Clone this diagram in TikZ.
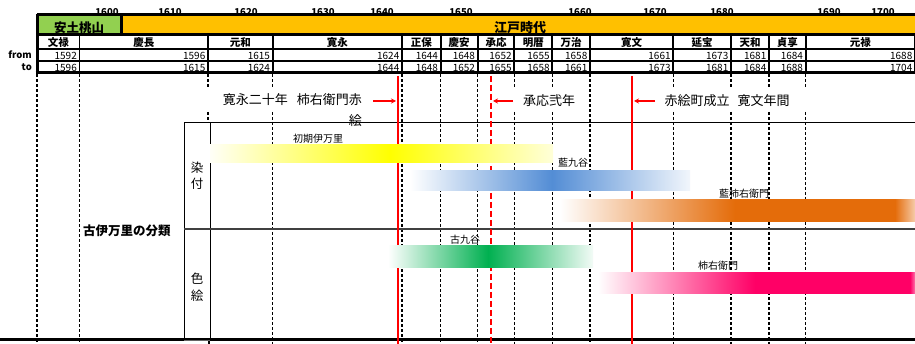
\documentclass[tikz,border=0pt]{standalone}
\usepackage{fontspec}
\setmainfont{Noto Sans CJK JP}
\usetikzlibrary{arrows.meta}
\definecolor{pgreen}{HTML}{92D050}
\definecolor{porange}{HTML}{FFC000}
\definecolor{bblue}{HTML}{538DD5}
\definecolor{borange}{HTML}{E46C0A}
\definecolor{bgreen}{HTML}{00B050}
\definecolor{bpink}{HTML}{FF0066}
\definecolor{byellow}{HTML}{FFFF00}
\pgfdeclarehorizontalshading{yellowbar}{100bp}{color(0bp)=(byellow!3); color(25bp)=(byellow!3); color(51.24bp)=(byellow); color(75bp)=(byellow!15); color(100bp)=(byellow!15)}
\pgfdeclarehorizontalshading{bluebar}{100bp}{color(0bp)=(white); color(25bp)=(white); color(50.36bp)=(bblue); color(75bp)=(bblue!8); color(100bp)=(bblue!8)}
\pgfdeclarehorizontalshading{orangebar}{100bp}{color(0bp)=(white); color(25bp)=(white); color(49.65bp)=(borange); color(72.18bp)=(borange); color(75bp)=(borange!35); color(100bp)=(borange!35)}
\pgfdeclarehorizontalshading{greenbar}{100bp}{color(0bp)=(white); color(25bp)=(white); color(49.39bp)=(bgreen); color(75bp)=(bgreen!5); color(100bp)=(bgreen!5)}
\pgfdeclarehorizontalshading{pinkbar}{100bp}{color(0bp)=(white); color(25bp)=(white); color(49.76bp)=(bpink); color(74.21bp)=(bpink); color(75bp)=(bpink!55); color(100bp)=(bpink!55)}
\tikzset{
  gridline/.style={line width=1.2pt, dash pattern=on 3pt off 2pt},
  tblline/.style={line width=1.8pt},
  thickline/.style={line width=3pt},
  eratxt/.style={font=\bfseries\fontsize{10.5}{10.5}\selectfont, inner sep=0pt},
  numtxt/.style={font=\fontsize{10}{10}\selectfont, inner sep=0pt, anchor=east},
  yrtxt/.style={font=\bfseries\fontsize{9.5}{9.5}\selectfont, inner sep=0pt},
  notetxt/.style={font=\fontsize{13}{21}\selectfont, inner sep=0pt},
  labtxt/.style={font=\fontsize{10}{10}\selectfont, inner sep=0pt},
  redline/.style={red, line width=2pt},
  redarrow/.style={red, line width=1.2pt, -{Stealth[length=5pt,width=5pt]}},
}
\begin{document}
\begin{tikzpicture}[x=1pt,y=-1pt]
\useasboundingbox (0,0) rectangle (915,344);
\fill[white] (0,0) rectangle (915,344);

% year scale
\foreach \yv/\xp [count=\i] in {1600/107,1610/170,1620/246,1630/323,1640/382,1650/461,1660/580,1670/655,1680/722,1690/829,1700/883}
  \node[yrtxt] (yr\i) at (\xp,12) {\yv};

% period bar
\fill[pgreen] (37,15) rectangle (121,35);
\fill[porange] (121,15) rectangle (915,35);
\draw[thickline] (37,15) -- (915,15);
\draw[thickline] (121,15) -- (121,35);
\draw[thickline] (37,14) -- (37,74);
\draw[thickline] (37,35) -- (915,35);
\node[font=\bfseries\fontsize{12.5}{12.5}\selectfont, inner sep=0pt] (azuchi) at (79,28) {安土桃山};
\node[font=\bfseries\fontsize{13}{13}\selectfont, inner sep=0pt] (edo) at (520,28) {江戸時代};

% era table
\foreach \l/\r/\e/\f/\t [count=\i] in {
  37/79.5/文禄/1592/1596, 79.5/208/慶長/1596/1615, 208/272.7/元和/1615/1624,
  272.7/402/寛永/1624/1644, 402/440.7/正保/1644/1648, 440.7/477.7/慶安/1648/1652,
  477.7/514.3/承応/1652/1655, 514.3/552.3/明暦/1655/1658, 552.3/590/万治/1658/1661,
  590/673.3/寛文/1661/1673, 673.3/731/延宝/1673/1681, 731/769/天和/1681/1684,
  769/805.7/貞享/1684/1688, 805.7/915/元禄/1688/1704} {
  \node[eratxt] (era\i) at ({(\l+\r)/2},42.5) {\e};
  \node[numtxt] (from\i) at (\r-2.5,55.5) {\f};
  \node[numtxt] (to\i) at (\r-2.5,67.5) {\t};
  \draw[tblline] (\r,35) -- (\r,73);
}
\draw[tblline] (37,49) -- (915,49);
\draw[tblline] (37,61) -- (915,61);
\draw[thickline] (35.5,73) -- (915,73);
\node[font=\bfseries\fontsize{9.5}{9.5}\selectfont, inner sep=0pt, anchor=east] (fromlab) at (32,55) {from};
\node[font=\bfseries\fontsize{9.5}{9.5}\selectfont, inner sep=0pt, anchor=east] (tolab) at (32,67) {to};

% dashed grid lines
\foreach \x in {37,79.5,402,440.7,477.7,590}
  \draw[gridline] (\x,74.5) -- (\x,344);
\foreach \x in {272.7,514.3,552.3,673.3,731,769,805.7} {
  \draw[gridline] (\x,74.5) -- (\x,88);
  \draw[gridline] (\x,112) -- (\x,344);
}
\draw[gridline] (208,74.5) -- (208,88);
\draw[gridline] (208,112) -- (208,123);
\draw[gridline] (209,341) -- (209,344);

% bottom line
\draw[thickline] (0,339.5) -- (915,339.5);

% classification box
\draw[line width=1pt] (184,341) -- (184,123) -- (915,123);
\draw[line width=1pt] (210,123) -- (210,341);
\draw[line width=1pt, black!60] (184,341) -- (210,341);
\draw[line width=1.3pt, black!75] (184,229) -- (915,229);
\node[font=\fontsize{12.5}{16}\selectfont, inner sep=0pt, align=center] (sometsuke) at (197,176) {染\\付};
\node[font=\fontsize{12.5}{17}\selectfont, inner sep=0pt, align=center] (iroe) at (197,287) {色\\絵};
\node[font=\bfseries\fontsize{12.5}{12.5}\selectfont, inner sep=0pt, anchor=west] (title) at (83,231) {古伊万里の分類};

% red lines
\draw[redline] (398,76) -- (398,344);
\draw[redline, dash pattern=on 6pt off 3pt] (491,76) -- (491,344);
\draw[redline] (632,76) -- (632,344);

% bars
\shade[shading=yellowbar] (210,145) rectangle (553,163);
\shade[shading=bluebar] (410,171) rectangle (690,191);
\shade[shading=orangebar] (560,200) rectangle (915,222);
\shade[shading=greenbar] (388,246) rectangle (593,268);
\shade[shading=pinkbar] (598,273) rectangle (915,294);

% bar labels
\node[labtxt] (shoki) at (318,139) {初期伊万里};
\node[labtxt] (aikutani) at (573,163) {藍九谷};
\node[labtxt] (aikaki) at (744,194) {藍柿右衛門};
\node[labtxt] (kokutani) at (465,240) {古九谷};
\node[labtxt] (kaki) at (718,266) {柿右衛門};

% notes and arrows
\node[notetxt, align=right, anchor=north east] (note1) at (362,93.5) {寛永二十年\hspace{9pt}柿右衛門赤\\絵};
\node[notetxt] (note2) at (549,101) {承応弐年};
\node[notetxt] (note3) at (727,101) {赤絵町成立\hspace{8pt}寛文年間};
\coordinate (a1s) at (373,101); \coordinate (a1e) at (396,101);
\coordinate (a2s) at (513,101); \coordinate (a2e) at (493,101);
\coordinate (a3s) at (655,101); \coordinate (a3e) at (634,101);
\draw[redarrow] (a1s) -- (a1e);
\draw[redarrow] (a2s) -- (a2e);
\draw[redarrow] (a3s) -- (a3e);
\end{tikzpicture}
\end{document}
